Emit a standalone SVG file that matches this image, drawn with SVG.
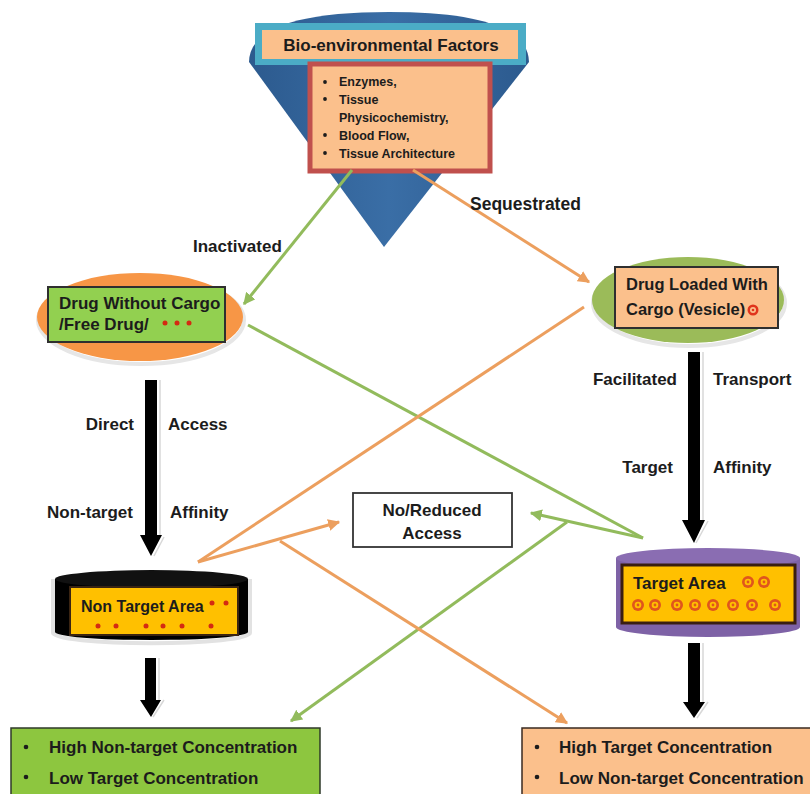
<svg xmlns="http://www.w3.org/2000/svg" width="810" height="794" viewBox="0 0 810 794">
<defs>
<linearGradient id="cone" x1="0" y1="0" x2="1" y2="0">
<stop offset="0" stop-color="#2c5a8e"/><stop offset="0.5" stop-color="#3a6ea6"/><stop offset="1" stop-color="#2c5a8e"/>
</linearGradient>
<marker id="ag" viewBox="0 0 10 10" refX="9" refY="5" markerWidth="4" markerHeight="4" orient="auto" markerUnits="strokeWidth">
<path d="M0,0 L10,5 L0,10 Z" fill="#92bb5c"/></marker>
<marker id="ao" viewBox="0 0 10 10" refX="9" refY="5" markerWidth="4" markerHeight="4" orient="auto" markerUnits="strokeWidth">
<path d="M0,0 L10,5 L0,10 Z" fill="#ec9f5e"/></marker>
<g id="tgt"><circle r="6" fill="#e0561c"/><circle r="3.3" fill="#ffc000"/><circle r="1.4" fill="#e0561c"/></g>
</defs>
<style>
text{font-family:"Liberation Sans",Arial,sans-serif;font-weight:bold;fill:#1c1c1c}
.lbl{font-size:17px}
.g{stroke:#92bb5c;stroke-width:3;fill:none}
.o{stroke:#ec9f5e;stroke-width:3;fill:none}
.box{stroke:#2f2f2f;stroke-width:2}
.dot{fill:#d42a12}
.blk{fill:#000}
.sh{fill:none;stroke:#d8d8d8;stroke-width:1.5}
</style>
<rect width="810" height="794" fill="#fff"/>

<g id="bio-factors">
<path d="M249,62 Q250,12 389,12 Q528,12 529,62 L384,247 Z" fill="url(#cone)"/>
<rect x="255" y="23" width="271" height="42" fill="#4bacc6"/>
<rect x="262" y="30" width="256" height="29" fill="#fbc08c"/>
<text x="391" y="51" font-size="17" text-anchor="middle">Bio-environmental Factors</text>
<rect x="310" y="64" width="180" height="107" fill="#fbc08c" stroke="#c0504d" stroke-width="5"/>
<g font-size="12.5">
<circle cx="325" cy="82" r="1.9" fill="#1c1c1c"/><text x="339" y="86">Enzymes,</text>
<circle cx="325" cy="99" r="1.9" fill="#1c1c1c"/><text x="339" y="104">Tissue</text>
<text x="339" y="122">Physicochemistry,</text>
<circle cx="325" cy="135" r="1.9" fill="#1c1c1c"/><text x="339" y="140">Blood Flow,</text>
<circle cx="325" cy="153" r="1.9" fill="#1c1c1c"/><text x="339" y="158">Tissue Architecture</text>
</g>
</g>

<g id="connectors">
<line class="g" x1="352" y1="170" x2="244" y2="304" marker-end="url(#ag)"/>
<line class="o" x1="413" y1="170" x2="589" y2="282" marker-end="url(#ao)"/>
<line class="g" x1="248" y1="325" x2="643" y2="538"/>
<line class="g" x1="643" y1="538" x2="531" y2="513" marker-end="url(#ag)"/>
<line class="g" x1="567" y1="522" x2="291" y2="721" marker-end="url(#ag)"/>
<line class="o" x1="584" y1="307" x2="198" y2="562"/>
<line class="o" x1="198" y1="562" x2="339" y2="522" marker-end="url(#ao)"/>
<line class="o" x1="280" y1="541" x2="567" y2="723" marker-end="url(#ao)"/>
<path class="sh" d="M160,380 L160,537 M164,537 L154,556"/>
<path class="blk" d="M145,380 L157,380 L157,535 L162,535 L151,556 L140,535 L145,535 Z"/>
<path class="sh" d="M703,352 L703,521 M708,521 L696,543"/>
<path class="blk" d="M688,352 L700,352 L700,520 L705,520 L694,543 L682,520 L688,520 Z"/>
<path class="sh" d="M159,658 L159,700 M164,700 L153,717"/>
<path class="blk" d="M145,658 L156,658 L156,700 L161,700 L151,717 L140,700 L145,700 Z"/>
<path class="sh" d="M703,643 L703,702 M708,702 L697,718"/>
<path class="blk" d="M688,643 L700,643 L700,702 L705,702 L694,718 L683,702 L688,702 Z"/>
</g>

<g id="labels" class="lbl">
<text x="193" y="252">Inactivated</text>
<text x="470" y="210" font-size="17.5">Sequestrated</text>
<text x="134" y="430" text-anchor="end">Direct</text>
<text x="168" y="430">Access</text>
<text x="133" y="518" text-anchor="end">Non-target</text>
<text x="170" y="518">Affinity</text>
<text x="677" y="385" text-anchor="end">Facilitated</text>
<text x="713" y="385">Transport</text>
<text x="673" y="473" text-anchor="end">Target</text>
<text x="713" y="473">Affinity</text>
</g>

<g id="drug-free">
<ellipse cx="141" cy="320" rx="103" ry="44" fill="none" stroke="#e6e6e6" stroke-width="4"/>
<ellipse cx="140" cy="317" rx="103" ry="44" fill="#f79646"/>
<rect x="48" y="287" width="177" height="55" fill="#92d050" class="box"/>
<text x="59" y="309" font-size="17">Drug Without Cargo</text>
<text x="59" y="330" font-size="17">/Free Drug/</text>
<circle class="dot" cx="165" cy="323" r="2.5"/><circle class="dot" cx="177" cy="323" r="2.5"/><circle class="dot" cx="189" cy="323" r="2.5"/>
</g>

<g id="drug-loaded">
<ellipse cx="689" cy="303" rx="96" ry="43" fill="none" stroke="#e6e6e6" stroke-width="4"/>
<ellipse cx="688" cy="300" rx="96" ry="43" fill="#9bbb59"/>
<rect x="615" y="267" width="163" height="61" fill="#fbc08c" class="box"/>
<text x="626" y="290" font-size="16.5">Drug Loaded With</text>
<text x="626" y="315" font-size="16.5">Cargo (Vesicle)</text>
<circle cx="753" cy="310" r="5.5" fill="#e0341c"/><circle cx="753" cy="310" r="3" fill="#fbc08c"/><circle cx="753" cy="310" r="1.3" fill="#e0341c"/>
</g>

<g id="no-access">
<rect x="353" y="493" width="159" height="54" fill="#fff" stroke="#333" stroke-width="1.8"/>
<text x="432" y="516" font-size="17" text-anchor="middle">No/Reduced</text>
<text x="432" y="539" font-size="17" text-anchor="middle">Access</text>
</g>

<g id="non-target-area">
<path d="M53,579 L53,633 A97,10 0 0 0 250,633 L250,579" fill="none" stroke="#e2e2e2" stroke-width="4"/>
<path d="M55,579 L55,632 A96.5,8 0 0 0 248,632 L248,579 Z" fill="#000"/>
<ellipse cx="151.5" cy="579" rx="96.5" ry="9" fill="#111"/>
<rect x="70" y="587" width="168" height="48" fill="#ffc000" stroke="#3a2412" stroke-width="2"/>
<text x="81" y="612" font-size="16">Non Target Area</text>
<circle class="dot" cx="212" cy="603" r="2.5"/><circle class="dot" cx="226" cy="603" r="2.5"/>
<circle class="dot" cx="98" cy="626" r="2.5"/><circle class="dot" cx="116" cy="626" r="2.5"/><circle class="dot" cx="146" cy="626" r="2.5"/><circle class="dot" cx="163" cy="626" r="2.5"/><circle class="dot" cx="182" cy="626" r="2.5"/><circle class="dot" cx="211" cy="626" r="2.5"/>
</g>

<g id="target-area">
<path d="M616,558 L616,627 A92,10 0 0 0 800,627 L800,558 Z" fill="#7e62a6"/>
<ellipse cx="708" cy="558" rx="92" ry="10" fill="#8a6db2"/>
<rect x="622" y="565" width="173" height="58" fill="#ffc000" stroke="#3a1e10" stroke-width="3"/>
<text x="633" y="589" font-size="17">Target Area</text>
<use href="#tgt" x="748" y="582"/><use href="#tgt" x="764" y="582"/>
<use href="#tgt" x="638" y="605"/><use href="#tgt" x="655" y="605"/><use href="#tgt" x="677" y="605"/><use href="#tgt" x="695" y="605"/><use href="#tgt" x="713" y="605"/><use href="#tgt" x="733" y="605"/><use href="#tgt" x="752" y="605"/><use href="#tgt" x="775" y="605"/>
</g>

<g id="result-left">
<rect x="11" y="728" width="309" height="70" fill="#8dc63f" stroke="#2f3a2a" stroke-width="1.5"/>
<circle cx="26" cy="747" r="2.3" fill="#1c1c1c"/><text x="49" y="753" font-size="17">High Non-target Concentration</text>
<circle cx="26" cy="777" r="2.3" fill="#1c1c1c"/><text x="49" y="784" font-size="17">Low Target Concentration</text>
</g>

<g id="result-right">
<rect x="522" y="728" width="300" height="70" fill="#fbc08c" stroke="#3a2a20" stroke-width="1.5"/>
<circle cx="537" cy="747" r="2.3" fill="#1c1c1c"/><text x="559" y="753" font-size="17">High Target Concentration</text>
<circle cx="537" cy="777" r="2.3" fill="#1c1c1c"/><text x="559" y="784" font-size="17">Low Non-target Concentration</text>
</g>
</svg>
